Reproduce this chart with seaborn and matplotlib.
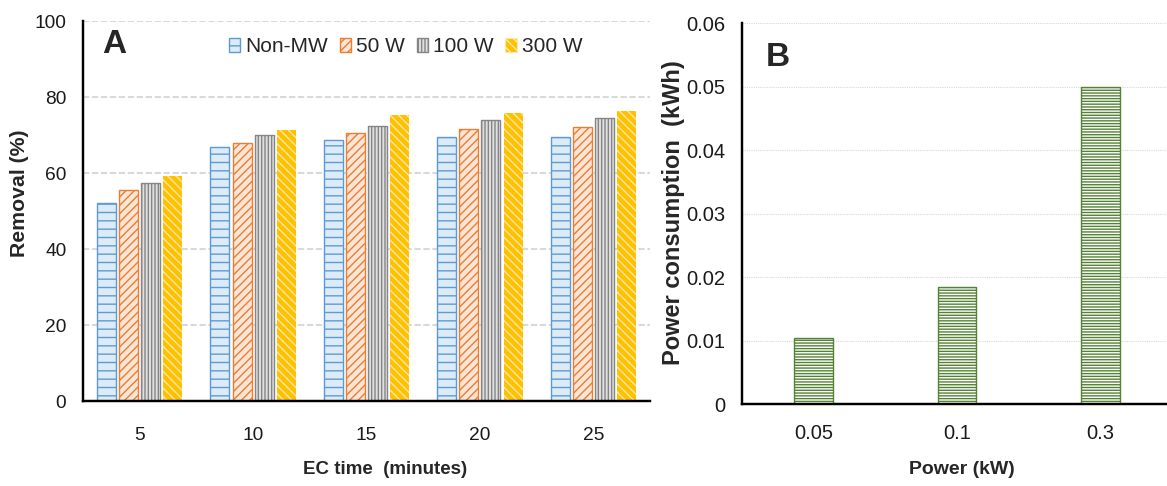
import numpy as np
import pandas as pd
import matplotlib
matplotlib.use("Agg")
import matplotlib.pyplot as plt
import matplotlib.patches as mpatches
import seaborn as sns

# Removal efficiency versus EC time for each microwave setting
ec_times = ["5", "10", "15", "20", "25"]
conditions = ["Non-MW", "50 W", "100 W", "300 W"]
removal_non_mw = [52.2, 66.9, 68.7, 69.6, 69.6]
removal_50w = [55.5, 67.8, 70.6, 71.5, 72.0]
removal_100w = [57.3, 70.0, 72.3, 74.0, 74.5]
removal_300w = [59.2, 71.3, 75.2, 75.8, 76.3]
removal_ticks = [0, 20, 40, 60, 80, 100]

# Power consumption versus applied microwave power
power_levels = ["0.05", "0.1", "0.3"]
power_consumption = [0.0104, 0.0184, 0.0500]
energy_ticks = [0, 0.01, 0.02, 0.03, 0.04, 0.05, 0.06]
energy_tick_labels = ["0", "0.01", "0.02", "0.03", "0.04", "0.05", "0.06"]

sns.set_theme(style="white")
plt.rcParams["font.family"] = ["Liberation Sans", "DejaVu Sans"]
plt.rcParams["hatch.linewidth"] = 1.0

# fill, edge/hatch colour, hatch, edge width per series
styles = {
    "Non-MW": ("#DDEBF7", "#5B9BD5", "--", 1.0),
    "50 W": ("#FBE5D6", "#ED7D31", "////", 1.0),
    "100 W": ("#E0E0E0", "#858585", "|||||", 1.0),
    "300 W": ("#FFC000", "#FFE9A6", "\\\\\\\\", 0.0),
}

fig = plt.figure(figsize=(11.67, 4.86), dpi=100)
ax_a = fig.add_axes([83 / 1167, 85 / 486, 567 / 1167, 380 / 486])
ax_b = fig.add_axes([742 / 1167, 81.7 / 486, 430 / 1167, 381 / 486])

# ---------- Panel A ----------
removal = pd.DataFrame({
    "EC time": ec_times,
    "Non-MW": removal_non_mw,
    "50 W": removal_50w,
    "100 W": removal_100w,
    "300 W": removal_300w,
}).melt(id_vars="EC time", var_name="condition", value_name="removal")

sns.barplot(
    data=removal, x="EC time", y="removal", hue="condition",
    order=ec_times, hue_order=conditions,
    palette={c: styles[c][0] for c in conditions},
    width=0.78, gap=0.14, saturation=1, errorbar=None,
    legend=False, ax=ax_a,
)
for cond, container in zip(conditions, ax_a.containers):
    face, edge, hatch, lw = styles[cond]
    for bar in container:
        bar.set_facecolor(face)
        bar.set_edgecolor(edge)
        bar.set_hatch(hatch)
        bar.set_linewidth(lw)

ax_a.set_ylim(0, 100)
ax_a.set_yticks(removal_ticks)
ax_a.yaxis.grid(True, color="#D9D9D9", linestyle=(0, (3, 1.3)), linewidth=1.5)
ax_a.xaxis.grid(False)
ax_a.set_axisbelow(True)
sns.despine(ax=ax_a)
for side in ("left", "bottom"):
    ax_a.spines[side].set_color("black")
    ax_a.spines[side].set_linewidth(1.75)
ax_a.tick_params(axis="both", direction="out", length=5, width=1.75,
                 color="black", labelsize=13.8, labelcolor="#1a1a1a")
ax_a.tick_params(axis="x", pad=14)
ax_a.tick_params(axis="y", pad=7)

ax_a.set_xlabel("EC time  (minutes)", fontsize=13.5, fontweight="bold", va="center")
ax_a.xaxis.set_label_coords(0.532, -0.179)
ax_a.set_ylabel("Removal (%)", fontsize=15.3, fontweight="bold", va="center")
ax_a.yaxis.set_label_coords(-0.112, 0.547)

ax_a.text(0.055, 0.937, "A", transform=ax_a.transAxes, fontsize=24,
          fontweight="bold", ha="center", va="center")

handles = [
    mpatches.Patch(facecolor=styles[c][0], edgecolor=styles[c][1],
                   hatch=styles[c][2], linewidth=max(styles[c][3], 0.8))
    for c in conditions
]
ax_a.legend(handles, conditions, loc="center left", bbox_to_anchor=(0.257, 0.932),
            ncol=4, frameon=False, fontsize=15, handlelength=0.55,
            handleheight=0.65, handletextpad=0.25, columnspacing=0.55,
            borderpad=0, borderaxespad=0)

# ---------- Panel B ----------
sns.barplot(x=power_levels, y=power_consumption, order=power_levels,
            width=0.27, color="white", saturation=1, errorbar=None, ax=ax_b)
for bar in ax_b.patches:
    bar.set_facecolor("white")
    bar.set_edgecolor("#548235")
    bar.set_hatch("------")
    bar.set_linewidth(1.0)

ax_b.set_ylim(0, 0.06)
ax_b.set_yticks(energy_ticks)
ax_b.set_yticklabels(energy_tick_labels)
ax_b.yaxis.grid(True, color="#D9D9D9", linestyle=(0, (1, 1)), linewidth=0.8)
ax_b.xaxis.grid(False)
ax_b.set_axisbelow(True)
sns.despine(ax=ax_b)
for side in ("left", "bottom"):
    ax_b.spines[side].set_color("black")
    ax_b.spines[side].set_linewidth(1.75)
ax_b.tick_params(axis="both", direction="out", length=5, width=1.75,
                 color="black", labelsize=14.5, labelcolor="#1a1a1a")
ax_b.tick_params(axis="x", pad=9)
ax_b.tick_params(axis="y", pad=7)

ax_b.set_xlabel("Power (kW)", fontsize=14, fontweight="bold", va="center")
ax_b.xaxis.set_label_coords(0.512, -0.172)
ax_b.set_ylabel("Power consumption  (kWh)", fontsize=17, fontweight="bold",
                va="center")
ax_b.yaxis.set_label_coords(-0.160, 0.503)

ax_b.text(0.084, 0.909, "B", transform=ax_b.transAxes, fontsize=24,
          fontweight="bold", ha="center", va="center")

fig.savefig("out.png", dpi=100)
